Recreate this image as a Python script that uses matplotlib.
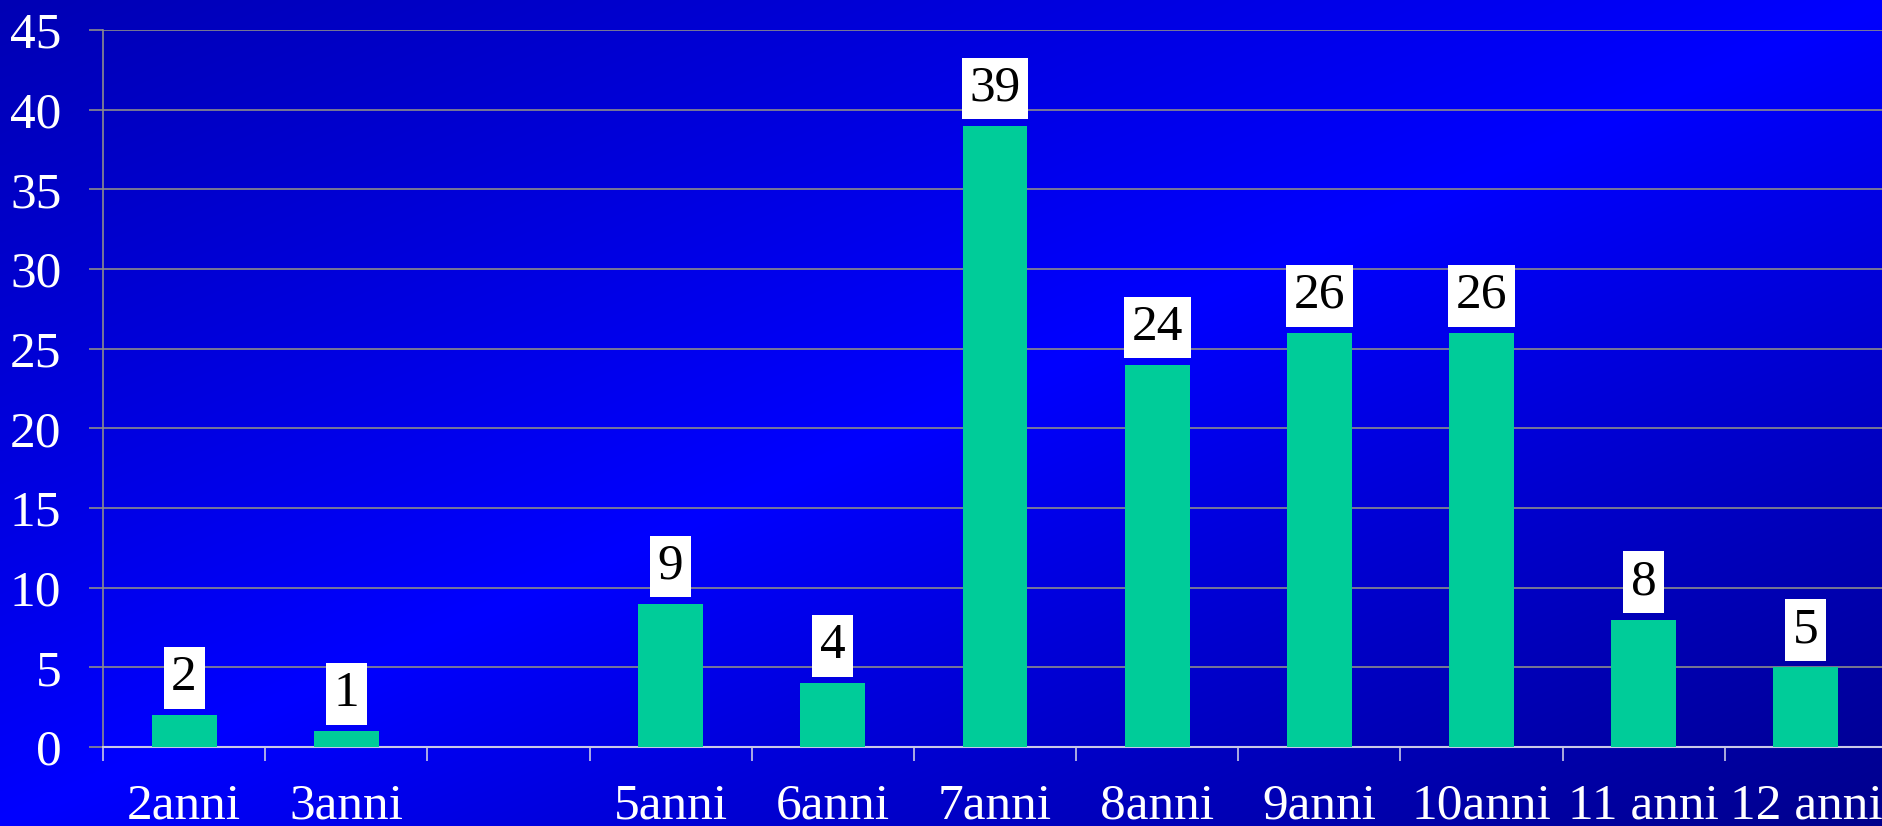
import matplotlib.pyplot as plt
import numpy as np

# Data
AGE_LABELS = ["2anni", "3anni", "", "5anni", "6anni", "7anni", "8anni",
              "9anni", "10anni", "11 anni", "12 anni"]
COUNTS = [2, 1, None, 9, 4, 39, 24, 26, 26, 8, 5]
Y_TICKS = [0, 5, 10, 15, 20, 25, 30, 35, 40, 45]

BAR_COLOR = "#00CC99"
GRID_COLOR = "#8C8C8C"
AXIS_COLOR = "#C8C8E6"
FONT_SIZE = 37

plt.rcParams["font.family"] = ["Liberation Serif", "DejaVu Serif"]

W, H = 1883, 826
fig = plt.figure(figsize=(W / 100, H / 100), dpi=100)

# Diagonal blue background: dark corners top-left / bottom-right, bright band between
bg = fig.add_axes([0, 0, 1, 1], zorder=0)
xx, yy = np.meshgrid(np.linspace(0, 1, 400), np.linspace(0, 1, 200))
s = (xx + yy) / 2
blue = np.where(s < 0.5, 180 + (255 - 180) * (s / 0.5), 255 - (255 - 140) * ((s - 0.5) / 0.5))
img = np.zeros(s.shape + (3,))
img[..., 2] = blue / 255
bg.imshow(img, aspect="auto", extent=[0, 1, 1, 0], interpolation="bilinear")
bg.set_axis_off()

ax = fig.add_axes([103 / W, 79 / H, 1784 / W, 717 / H], zorder=1)
ax.patch.set_alpha(0)

positions = [i for i, v in enumerate(COUNTS) if v is not None]
heights = [COUNTS[i] for i in positions]
ax.bar(positions, heights, width=0.4, color=BAR_COLOR, zorder=3)

for x, v in zip(positions, heights):
    ax.annotate(str(v), (x, v), xytext=(0, 10), textcoords="offset points",
                ha="center", va="bottom", fontsize=FONT_SIZE, color="black", zorder=4,
                bbox=dict(boxstyle="square,pad=0.15", fc="white", ec="none"))

ax.set_xlim(-0.5, len(AGE_LABELS) - 0.5)
ax.set_ylim(0, 45)
ax.set_yticks(Y_TICKS)
ax.yaxis.grid(True, color=GRID_COLOR, lw=1.2, zorder=1)
ax.set_axisbelow(True)

ax.set_xticks(np.arange(-0.5, len(AGE_LABELS), 1))
ax.set_xticklabels([])
ax.set_xticks(range(len(AGE_LABELS)), minor=True)
ax.set_xticklabels(AGE_LABELS, minor=True)

ax.tick_params(axis="y", length=10, width=1.2, color=GRID_COLOR,
               labelsize=FONT_SIZE, labelcolor="white", pad=20)
ax.tick_params(axis="x", which="major", length=10, width=1.2, color=AXIS_COLOR)
ax.tick_params(axis="x", which="minor", length=0, pad=26,
               labelsize=FONT_SIZE, labelcolor="white")

for side in ("top", "right"):
    ax.spines[side].set_visible(False)
ax.spines["left"].set_color(GRID_COLOR)
ax.spines["left"].set_linewidth(1.2)
ax.spines["bottom"].set_color(AXIS_COLOR)
ax.spines["bottom"].set_linewidth(1.5)

fig.savefig("out.png", dpi=100)
